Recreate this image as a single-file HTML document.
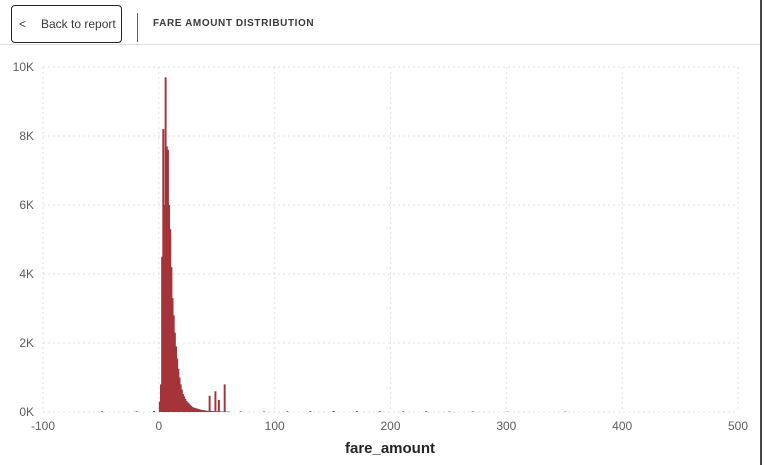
<!DOCTYPE html>
<html><head><meta charset="utf-8"><style>
body{margin:0;width:765px;height:465px;background:#fff;overflow:hidden;font-family:"Segoe UI","Liberation Sans",sans-serif;position:relative}
#back{position:absolute;left:11px;top:5px;width:111px;height:38px;border:1px solid #252423;border-radius:4px;box-sizing:border-box;font-size:12px;color:#3b3a39;white-space:nowrap}
#back span{position:absolute;top:11px}
#sep{position:absolute;left:137px;top:13px;width:1px;height:29px;background:#605e5c}
#title{position:absolute;left:153px;top:18px;font-size:10px;font-weight:bold;letter-spacing:0.6px;color:#3b3a39}
#hline{position:absolute;left:0;top:44px;width:761px;height:1px;background:#e1dfdd}
#rline{position:absolute;left:760px;top:0;width:2px;height:465px;background:#444}
svg{position:absolute;left:0;top:0}
</style></head><body>
<div id="back"><span style="left:7px">&lt;</span><span style="left:29px">Back to report</span></div>
<div id="sep"></div>
<div id="title">FARE AMOUNT DISTRIBUTION</div>
<div id="hline"></div>
<div id="rline"></div>
<svg id="chart" width="765" height="465"></svg>
<script>
const binStarts=[];for(let i=0;i<=60;i++)binStarts.push(i);
const counts=[300,800,4500,8200,6000,9700,7700,7600,6000,5300,4200,3300,2800,2300,1900,1550,1250,1000,800,650,520,450,380,320,280,250,210,180,150,130,120,110,100,90,80,70,60,55,50,45,40,35,30,470,30,25,25,20,600,20,20,350,15,15,15,15,800,10,10,10,10];
const tailStarts=[-50,-20,-5,70,90,110,130,150,170,190,210,230,250,270,300,350];
const tailCounts=[20,20,30,15,15,20,25,30,30,25,20,20,15,15,10,10];
const xTicks=[-100,0,100,200,300,400,500];
const yTicks=[0,2000,4000,6000,8000,10000];
const yLabels=["0K","2K","4K","6K","8K","10K"];
const X=v=>43+(v+100)*(738-43)/600;
const Y=v=>412-v*(412-67)/10000;
const svg=document.getElementById('chart');const ns='http://www.w3.org/2000/svg';
function mk(t,a){const e=document.createElementNS(ns,t);for(const k in a)e.setAttribute(k,a[k]);svg.appendChild(e);return e;}
yTicks.forEach((v,i)=>{
 const l=mk('line',{x1:43,x2:738,y1:Y(v),y2:Y(v),stroke:'#e1e1e1','stroke-dasharray':'2,3'});
 
 
 const t=mk('text',{x:34,y:Y(v)+4,'text-anchor':'end','font-size':12,fill:'#605e5c','font-family':'Segoe UI, Liberation Sans, sans-serif'});t.textContent=yLabels[i];
 
 
});
xTicks.forEach(v=>{
 const l=mk('line',{x1:X(v),x2:X(v),y1:67,y2:412,stroke:'#e1e1e1','stroke-dasharray':'2,3'});
 
 
 const t=mk('text',{x:X(v),y:430,'text-anchor':'middle','font-size':12,fill:'#605e5c','font-family':'Segoe UI, Liberation Sans, sans-serif'});t.textContent=v;
 
 
});
const bw=X(1)-X(0);
function bar(s,c){const r=mk('rect',{x:X(s),y:Y(c),width:bw+0.8,height:Y(0)-Y(c),fill:'#a4343a'});
 
 }
binStarts.forEach((s,i)=>bar(s,counts[i]));
tailStarts.forEach((s,i)=>bar(s,tailCounts[i]));
const xt=mk('text',{x:390,y:453,'text-anchor':'middle','font-size':15,'font-weight':'bold',fill:'#252423','font-family':'Segoe UI, Liberation Sans, sans-serif'});xt.textContent='fare_amount';


</script>
</body></html>
